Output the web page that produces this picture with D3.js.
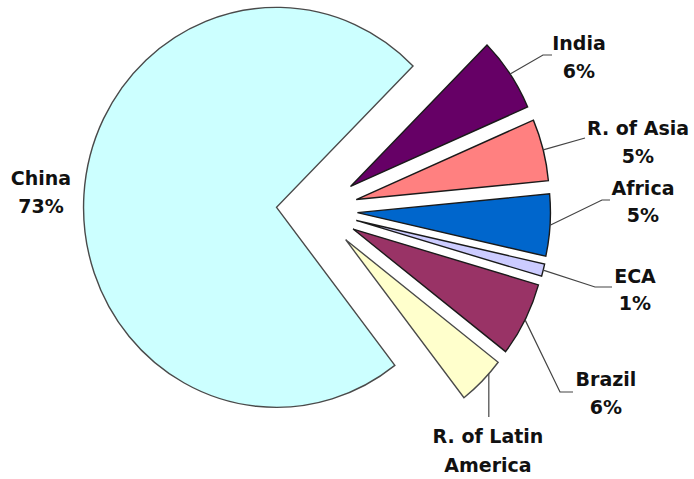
<!DOCTYPE html>
<html>
<head>
<meta charset="utf-8">
<script src="https://cdn.jsdelivr.net/npm/d3@7/dist/d3.min.js"></script>
<style>
  html, body { margin: 0; padding: 0; background: #ffffff; }
  svg { display: block; }
  .lbl { font-family: "DejaVu Sans", Verdana, sans-serif; font-weight: bold; font-size: 19px; fill: #111; }
</style>
</head>
<body>
<svg id="chart" width="694" height="479"></svg>
<script>
// Regional shares (%), clockwise from the upper right
const categories = ["India", "R. of Asia", "Africa", "ECA", "Brazil", "R. of Latin America", "China"];
const shares = [6, 5, 5, 1, 6, 4, 73];
const valueLabels = ["6%", "5%", "5%", "1%", "6%", "", "73%"];
const nameLines = [["India"], ["R. of Asia"], ["Africa"], ["ECA"], ["Brazil"], ["R. of Latin", "America"], ["China"]];
const colors = ["#660066", "#ff8080", "#0066cc", "#ccccff", "#993366", "#ffffcc", "#ccffff"];

// Label placement: text centre x, baselines, leader-line bend points,
// and where along the slice's outer arc the leader starts (0..1)
const labelLayout = [
  { x: 579, y: [50, 78],   at: 0.5,  bend: [[543, 55], [552, 55]] },
  { x: 638, y: [135, 163], at: 0.5,  bend: [[585, 138]] },
  { x: 643, y: [195, 222], at: 0.5,  bend: [[602, 200], [610, 200]] },
  { x: 635, y: [283, 310], at: 0.5,  bend: [[595, 287], [612, 287]] },
  { x: 606, y: [386, 414], at: 0.5,  bend: [[560, 392], [573, 392]] },
  { x: 488, y: [443, 472], at: 0.3,  bend: "down", bottom: 417 },
  { x: 41,  y: [185, 213], at: 0.5,  bend: null }
];

const cx = 317, cy = 210, radius = 200, explode = 42, squeezeX = 0.965;
const start = 45 * Math.PI / 180;

const svg = d3.select("#chart");

const pie = d3.pie().sort(null).value(d => d)
  .startAngle(start).endAngle(start + 2 * Math.PI);
const arcs = pie(shares);
const arcGen = d3.arc().innerRadius(0).outerRadius(radius);

const g = svg.append("g")
  .attr("transform", `translate(${cx},${cy}) scale(${squeezeX},1)`);

const mid = a => (a.startAngle + a.endAngle) / 2;

g.selectAll("path.slice")
  .data(arcs)
  .join("path")
  .attr("class", "slice")
  .attr("transform", a => `translate(${explode * Math.sin(mid(a))},${-explode * Math.cos(mid(a))})`)
  .attr("d", arcGen)
  .attr("fill", (a, i) => colors[i])
  .attr("stroke", (a, i) => i === 6 || i === 5 ? "#4a4a4a" : "#1a1a1a")
  .attr("stroke-width", 1.4)
  .attr("vector-effect", "non-scaling-stroke")
  .attr("stroke-linejoin", "miter");

// Point on the outer arc of an exploded slice, in page coordinates
function anchorPoint(a, f) {
  const m = mid(a);
  const t = a.startAngle + f * (a.endAngle - a.startAngle);
  const gx = explode * Math.sin(m) + radius * Math.sin(t);
  const gy = -explode * Math.cos(m) - radius * Math.cos(t);
  return [cx + squeezeX * gx, cy + gy];
}

const line = d3.line();
arcs.forEach((a, i) => {
  const lay = labelLayout[i];
  if (lay.bend) {
    const p0 = anchorPoint(a, lay.at);
    const pts = lay.bend === "down" ? [p0, [p0[0], lay.bottom]] : [p0, ...lay.bend];
    svg.append("path")
      .attr("d", line(pts))
      .attr("fill", "none")
      .attr("stroke", "#444")
      .attr("stroke-width", 1.2);
  }
  const lines = nameLines[i].concat(valueLabels[i] ? [valueLabels[i]] : []);
  lines.forEach((t, k) => {
    svg.append("text")
      .attr("class", "lbl")
      .attr("x", lay.x)
      .attr("y", lay.y[k])
      .attr("text-anchor", "middle")
      .text(t);
  });
});
</script>
</body>
</html>
